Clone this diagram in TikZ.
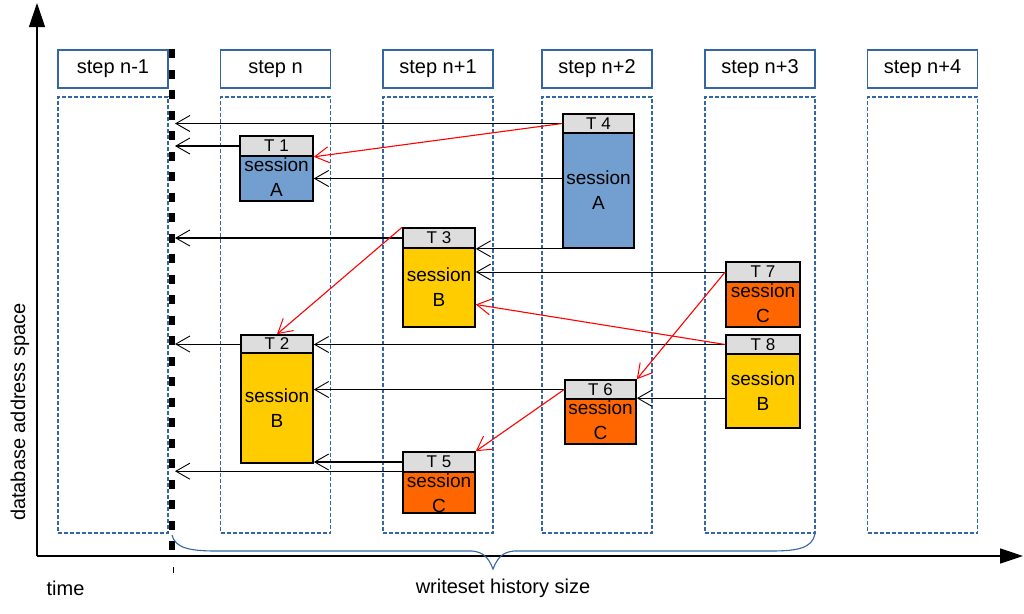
\documentclass[tikz,border=0pt]{standalone}
\usepackage{fontspec}
\setmainfont{Liberation Sans}
\usetikzlibrary{arrows.meta,calc}
\definecolor{colblue}{HTML}{3465A4}
\definecolor{sblue}{HTML}{729FCF}
\definecolor{syellow}{HTML}{FFCC00}
\definecolor{sorange}{HTML}{FF6600}
\definecolor{hgray}{HTML}{DDDDDD}
\begin{document}
\begin{tikzpicture}[x=1pt,y=-1pt,
  stephead/.style={draw=colblue,line width=1.3pt,minimum width=110pt,minimum height=38pt,inner sep=0pt,font=\fontsize{20}{24}\selectfont},
  stepcol/.style={draw=colblue,line width=1.2pt,dash pattern=on 4pt off 2pt,minimum width=110pt,minimum height=436pt,inner sep=0pt},
  hdr/.style={draw,line width=1.6pt,fill=hgray,inner sep=0pt,font=\fontsize{17}{20}\selectfont},
  body/.style={draw,line width=1.6pt,inner sep=0pt},
  lbl/.style={align=center,font=\fontsize{19}{25}\selectfont,inner sep=0pt},
  conn/.style={line width=0.9pt,-{Straight Barb[length=14pt,width=16pt,line width=0.9pt]}},
  tconn/.style={conn,line width=1.8pt},
  rconn/.style={red,line width=1.1pt,-{Straight Barb[length=14pt,width=16pt,line width=1pt]}},
  plain/.style={font=\fontsize{20}{24}\selectfont,inner sep=0pt}
]
\useasboundingbox (0,0) rectangle (1024,613);

% axes
\coordinate (O) at (37,556);
\coordinate (Ytop) at (37,3);
\coordinate (Xend) at (1023,556);
\draw[line width=1.2pt,-{Triangle[length=24pt,width=16pt]}] (O) -- (Ytop);
\draw[line width=1.6pt,-{Triangle[length=23pt,width=15pt]}] (O) -- (Xend);

% step headers and columns
\foreach \nm/\cx/\txt in {s0/113/{step n-1},s1/275.5/{step n},s2/438/{step n+1},s3/597/{step n+2},s4/760/{step n+3},s5/922.5/{step n+4}}{
  \node[stephead] (\nm h) at (\cx,69) {\txt};
  \node[stepcol] (\nm c) at (\cx,315) {};
}

% thick dashed time line
\draw[line width=6pt,dash pattern=on 9pt off 11.5pt] (172,49) -- (172,560);
\draw[line width=1pt] (173,567) -- (173,573);
\coordinate (D) at (175,0);

% brace
\draw[colblue,line width=1.1pt] (172,535) .. controls (175,548) and (190,551) .. (216,551)
  -- (472,551) .. controls (482,552) and (488,556) .. (493,569)
  .. controls (498,556) and (504,552) .. (514,551) -- (771,551)
  .. controls (798,551) and (812,548) .. (815,534);

% transactions
\node[body,fill=sblue,minimum width=73pt,minimum height=45pt] (T1b) at (276.5,178.5) {};
\node[hdr,minimum width=73pt,minimum height=20pt] (T1h) at (276.5,146) {T 1};
\node[lbl] (T1t) at (276.5,177) {session\\A};

\node[body,fill=sblue,minimum width=71pt,minimum height=115pt] (T4b) at (598.5,190.5) {};
\node[hdr,minimum width=71pt,minimum height=19pt] (T4h) at (598.5,123.5) {T 4};
\node[lbl] (T4t) at (598.5,190) {session\\A};

\node[body,fill=syellow,minimum width=72pt,minimum height=79pt] (T3b) at (439,287.5) {};
\node[hdr,minimum width=72pt,minimum height=20pt] (T3h) at (439,238) {T 3};
\node[lbl] (T3t) at (439,287.5) {session\\B};

\node[body,fill=sorange,minimum width=74pt,minimum height=45pt] (T7b) at (763,304.5) {};
\node[hdr,minimum width=74pt,minimum height=20pt] (T7h) at (763,272) {T 7};
\node[lbl] (T7t) at (763,303) {session\\C};

\node[body,fill=syellow,minimum width=74pt,minimum height=74pt] (T8b) at (763,391) {};
\node[hdr,minimum width=74pt,minimum height=19pt] (T8h) at (763,344.5) {T 8};
\node[lbl] (T8t) at (763,391.5) {session\\B};

\node[body,fill=syellow,minimum width=72pt,minimum height=110pt] (T2b) at (277,408) {};
\node[hdr,minimum width=72pt,minimum height=18pt] (T2h) at (277,344) {T 2};
\node[lbl] (T2t) at (277,408) {session\\B};

\node[body,fill=sorange,minimum width=71pt,minimum height=45pt] (T6b) at (600.5,421.5) {};
\node[hdr,minimum width=71pt,minimum height=19pt] (T6h) at (600.5,389.5) {T 6};
\node[lbl] (T6t) at (600.5,420) {session\\C};

\node[body,fill=sorange,minimum width=72pt,minimum height=41pt] (T5b) at (439,492.5) {};
\node[hdr,minimum width=72pt,minimum height=20pt] (T5h) at (439,462) {T 5};
\node[lbl] (T5t) at (439,493) {session\\C};

% black connectors
\draw[tconn] (T4h.west) -- (T4h.west -| D);
\draw[tconn] (T1h.west) -- (T1h.west -| D);
\draw[conn] (T4b.west |- T1b.east) -- (T1b.east);
\draw[tconn] (T3h.west) -- (T3h.west -| D);
\draw[conn] (T4b.south west) -- (T4b.south west -| T3h.east);
\draw[conn] (T7h.west) -- (T7h.west -| T3b.east);
\draw[conn] (T8h.west) -- (T8h.west -| T2h.east);
\draw[conn] (T2h.west) -- (T2h.west -| D);
\draw[conn] (T6h.west) -- (T6h.west -| T2b.east);
\draw[conn] (T6b.north east -| T8b.west) -- (T6b.north east);
\draw[tconn] (T5h.west) -- (T5h.west -| T2b.east);
\draw[conn] (T5b.north west) -- (T5b.north west -| D);

% red connectors
\draw[rconn] (T4h.west) -- (T1h.south east);
\draw[rconn] (T3h.north west) -- (T2h.north);
\draw[rconn] (T8h.west) -- ($(T3b.east)+(0,17)$);
\draw[rconn] (T7h.west) -- (T6h.north east);
\draw[rconn] (T6h.west) -- (T5h.north east);

% labels
\node[plain] (tl) at (65.5,588) {time};
\node[plain] (wl) at (503,588) {writeset history size};
\node[plain,rotate=90] (dl) at (20,412) {database address space};
\end{tikzpicture}
\end{document}
